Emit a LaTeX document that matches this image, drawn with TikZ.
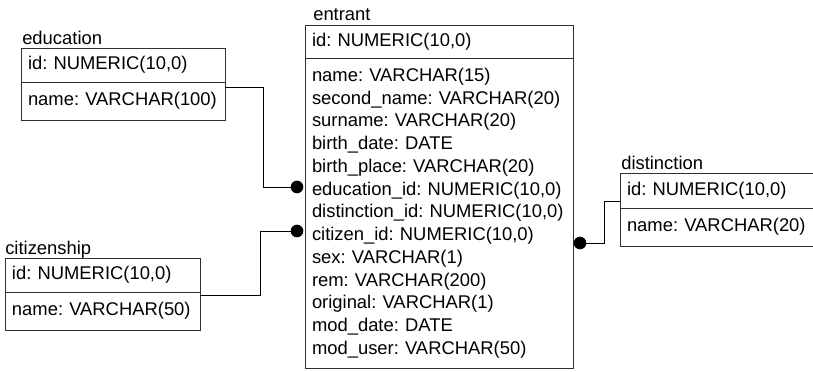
\documentclass[tikz,border=0pt]{standalone}
\usepackage{fontspec}
\setmainfont{Liberation Sans}
\usetikzlibrary{calc,positioning}
\definecolor{TblLine}{HTML}{303030}
\newcommand{\tblfont}{\fontsize{13.8}{17.06}\selectfont\frenchspacing}

\tikzset{
  tbllabel/.style={anchor=base west,inner sep=0pt,font=\tblfont},
  tblhead/.style={draw=TblLine,line width=0.75pt,anchor=north west,outer sep=0pt,
    inner xsep=5.25pt,inner ysep=0pt,text width=#1,align=left,font=\tblfont},
  tblbody/.style={tblhead=#1},
  fkdot/.style={circle,fill=black,inner sep=0pt,minimum size=9.5pt},
  link/.style={draw=black,line width=0.75pt}
}

\begin{document}
\begin{tikzpicture}[x=0.75pt,y=-0.75pt]
  \useasboundingbox (0,0) rectangle (813,371);

  % --- entrant (centre) ---
  \node[tbllabel] (entLabel) at (313,21) {entrant};
  \node[tblhead=190.5pt,minimum height=24.75pt] (entHead) at (305,25)
    {id: NUMERIC(10,0)};
  \node[tblbody=190.5pt,minimum height=232.5pt] (entBody) at (entHead.south west)
    {name: VARCHAR(15)\\
     second\_name: VARCHAR(20)\\
     surname: VARCHAR(20)\\
     birth\_date: DATE\\
     birth\_place: VARCHAR(20)\\
     education\_id: NUMERIC(10,0)\\
     distinction\_id: NUMERIC(10,0)\\
     citizen\_id: NUMERIC(10,0)\\
     sex: VARCHAR(1)\\
     rem: VARCHAR(200)\\
     original: VARCHAR(1)\\
     mod\_date: DATE\\
     mod\_user: VARCHAR(50)};

  % --- education (top left) ---
  \node[tbllabel] (eduLabel) at (22,44) {education};
  \node[tblhead=142.5pt,minimum height=25.5pt] (eduHead) at (21,48)
    {id: NUMERIC(10,0)};
  \node[tblbody=142.5pt,minimum height=28.5pt] (eduBody) at (eduHead.south west)
    {name: VARCHAR(100)};

  % --- citizenship (bottom left) ---
  \node[tbllabel] (citLabel) at (5,254) {citizenship};
  \node[tblhead=135.75pt,minimum height=25.5pt] (citHead) at (5,258)
    {id: NUMERIC(10,0)};
  \node[tblbody=135.75pt,minimum height=28.5pt] (citBody) at (citHead.south west)
    {name: VARCHAR(50)};

  % --- distinction (right, runs off the edge) ---
  \node[tbllabel] (disLabel) at (621,169) {distinction};
  \node[tblhead=147pt,minimum height=26.25pt] (disHead) at (620,173)
    {id: NUMERIC(10,0)};
  \node[tblbody=147pt,minimum height=28.5pt] (disBody) at (disHead.south west)
    {name: VARCHAR(20)};

  % foreign key ends
  \node[fkdot] (dotEdu) at (297,187) {};
  \node[fkdot] (dotCit) at (297,231) {};
  \node[fkdot] (dotDis) at (580,243) {};

  % relations
  \draw[link] ([yshift=-3.75pt]eduBody.north east) -- ++(38,0) |- (dotEdu.center);
  \draw[link] ([yshift=-2.25pt]citBody.north east) -- ++(60,0) |- (dotCit.center);
  \draw[link] ([yshift=5.25pt]disHead.south west) -- ++(-16,0) |- (dotDis.center);
\end{tikzpicture}
\end{document}
